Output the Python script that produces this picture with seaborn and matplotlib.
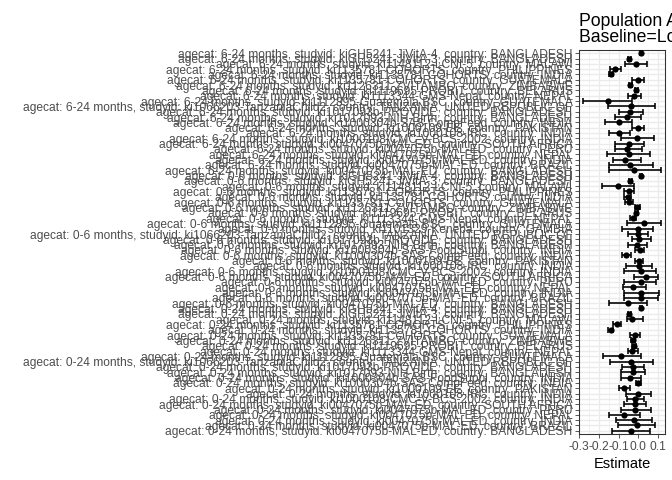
import numpy as np
import pandas as pd
import matplotlib
matplotlib.use("Agg")
import matplotlib.pyplot as plt
from matplotlib.ticker import MultipleLocator
import seaborn as sns

# --- DATA (each age group listed top to bottom) ---
studies_6_24 = [
    ("kiGH5241-JiVitA-4", "BANGLADESH"), ("kiGH5241-JiVitA-3", "BANGLADESH"),
    ("ki1148112-LCNI-5", "MALAWI"), ("ki1135781-COHORTS", "PHILIPPINES"),
    ("ki1135781-COHORTS", "INDIA"), ("ki1135781-COHORTS", "GUATEMALA"),
    ("ki1126311-ZVITAMBO", "ZIMBABWE"), ("ki1119695-PROBIT", "BELARUS"),
    ("ki1113344-GMS-Nepal", "NEPAL"), ("ki1112895-Guatemala BSC", "GUATEMALA"),
    ("ki1066203-TanzaniaChild2", "TANZANIA, UNITED REPUBLIC OF"),
    ("ki1017093b-PROVIDE", "BANGLADESH"), ("ki1017093-NIH-Birth", "BANGLADESH"),
    ("ki1000304b-SAS-CompFeed", "INDIA"), ("ki1000109-EE", "PAKISTAN"),
    ("ki1000108-IRC", "INDIA"), ("ki1000108-CMC-V-BCS-2002", "INDIA"),
    ("ki0047075b-MAL-ED", "SOUTH AFRICA"), ("ki0047075b-MAL-ED", "PERU"),
    ("ki0047075b-MAL-ED", "NEPAL"), ("ki0047075b-MAL-ED", "INDIA"),
    ("ki0047075b-MAL-ED", "BRAZIL"), ("ki0047075b-MAL-ED", "BANGLADESH"),
]
est_6_24 = [0.012, -0.045, -0.01, -0.12, -0.14, 0.0, -0.04, -0.01, -0.022, -0.155, -0.036, -0.04,
            -0.056, -0.1, 0.0, -0.1, -0.005, -0.045, -0.058, -0.046, -0.065, -0.04, -0.02]
lo_6_24 = [0.006, -0.053, -0.067, -0.145, -0.15, -0.03, -0.048, -0.018, -0.05, -0.28, -0.155, -0.097,
           -0.12, -0.17, -0.03, -0.15, -0.09, -0.12, -0.12, -0.16, -0.13, -0.15, -0.15]
hi_6_24 = [0.018, -0.037, 0.046, -0.09, -0.13, 0.03, -0.032, -0.002, 0.015, -0.03, 0.085, 0.023,
           0.015, -0.03, 0.03, -0.04, 0.08, 0.03, 0.02, 0.06, 0.015, 0.075, 0.115]

studies_0_6 = [
    ("kiGH5241-JiVitA-4", "BANGLADESH"), ("kiGH5241-JiVitA-3", "BANGLADESH"),
    ("ki1148112-LCNI-5", "MALAWI"), ("ki1135781-COHORTS", "PHILIPPINES"),
    ("ki1135781-COHORTS", "INDIA"), ("ki1135781-COHORTS", "GUATEMALA"),
    ("ki1126311-ZVITAMBO", "ZIMBABWE"), ("ki1119695-PROBIT", "BELARUS"),
    ("ki1113344-GMS-Nepal", "NEPAL"), ("ki1112895-Guatemala BSC", "GUATEMALA"),
    ("ki1101329-Keneba", "GAMBIA"),
    ("ki1066203-TanzaniaChild2", "TANZANIA, UNITED REPUBLIC OF"),
    ("ki1017093b-PROVIDE", "BANGLADESH"), ("ki1017093-NIH-Birth", "BANGLADESH"),
    ("ki1000304b-SAS-FoodSuppl", "INDIA"), ("ki1000304b-SAS-CompFeed", "INDIA"),
    ("ki1000109-EE", "PAKISTAN"), ("ki1000108-IRC", "INDIA"),
    ("ki1000108-CMC-V-BCS-2002", "INDIA"),
    ("ki0047075b-MAL-ED", "SOUTH AFRICA"), ("ki0047075b-MAL-ED", "PERU"),
    ("ki0047075b-MAL-ED", "NEPAL"), ("ki0047075b-MAL-ED", "INDIA"),
    ("ki0047075b-MAL-ED", "BRAZIL"), ("ki0047075b-MAL-ED", "BANGLADESH"),
]
est_0_6 = [0.015, -0.04, -0.105, -0.045, -0.053, -0.045, -0.005, -0.01, -0.027, 0.027, 0.0, 0.0, 0.003,
           -0.005, 0.007, -0.06, 0.003, 0.003, 0.013, 0.037, 0.013, -0.027, 0.015, 0.013, -0.053]
lo_0_6 = [0.01, -0.046, -0.185, -0.07, -0.07, -0.066, -0.018, -0.018, -0.044, -0.055, -0.085, -0.05, -0.032,
          -0.05, -0.015, -0.085, -0.015, -0.06, -0.07, -0.02, -0.07, -0.08, -0.07, -0.07, -0.15]
hi_0_6 = [0.02, -0.034, -0.02, -0.02, -0.036, -0.025, 0.01, -0.002, -0.01, 0.115, 0.075, 0.05, 0.063,
          0.046, 0.03, -0.036, 0.024, 0.07, 0.09, 0.1, 0.09, 0.04, 0.105, 0.1, 0.046]

studies_0_24 = [
    ("kiGH5241-JiVitA-4", "BANGLADESH"), ("kiGH5241-JiVitA-3", "BANGLADESH"),
    ("ki1148112-LCNI-5", "MALAWI"), ("ki1135781-COHORTS", "PHILIPPINES"),
    ("ki1135781-COHORTS", "INDIA"), ("ki1135781-COHORTS", "GUATEMALA"),
    ("ki1126311-ZVITAMBO", "ZIMBABWE"), ("ki1119695-PROBIT", "BELARUS"),
    ("ki1113344-GMS-Nepal", "NEPAL"), ("ki1112895-Guatemala BSC", "GUATEMALA"),
    ("ki1066203-TanzaniaChild2", "TANZANIA, UNITED REPUBLIC OF"),
    ("ki1017093b-PROVIDE", "BANGLADESH"), ("ki1017093-NIH-Birth", "BANGLADESH"),
    ("ki1000304b-SAS-FoodSuppl", "INDIA"), ("ki1000304b-SAS-CompFeed", "INDIA"),
    ("ki1000109-EE", "PAKISTAN"), ("ki1000108-IRC", "INDIA"),
    ("ki1000108-CMC-V-BCS-2002", "INDIA"),
    ("ki0047075b-MAL-ED", "SOUTH AFRICA"), ("ki0047075b-MAL-ED", "PERU"),
    ("ki0047075b-MAL-ED", "NEPAL"), ("ki0047075b-MAL-ED", "INDIA"),
    ("ki0047075b-MAL-ED", "BRAZIL"), ("ki0047075b-MAL-ED", "BANGLADESH"),
]
est_0_24 = [0.013, -0.045, -0.03, -0.11, -0.14, -0.015, -0.027, -0.022, -0.032, -0.087, -0.036, -0.027,
            -0.027, -0.044, 0.0, -0.07, 0.0, -0.015, -0.015, -0.015, -0.073, -0.02, -0.008, -0.037]
lo_0_24 = [0.008, -0.051, -0.056, -0.13, -0.152, -0.04, -0.039, -0.034, -0.053, -0.18, -0.143, -0.084,
           -0.087, -0.09, -0.012, -0.1, -0.062, -0.057, -0.07, -0.09, -0.147, -0.113, -0.103, -0.134]
hi_0_24 = [0.018, -0.039, 0.024, -0.087, -0.128, 0.007, -0.015, -0.01, 0.0, 0.012, 0.075, 0.03,
           0.032, 0.012, 0.012, -0.04, 0.063, 0.03, 0.04, 0.063, 0.007, 0.07, 0.085, 0.06]

TITLE = "Population Attributable Difference\nBaseline=Low birth weight"


def build_frame():
    rows = []
    groups = [("6-24 months", studies_6_24, est_6_24, lo_6_24, hi_6_24),
              ("0-6 months", studies_0_6, est_0_6, lo_0_6, hi_0_6),
              ("0-24 months", studies_0_24, est_0_24, lo_0_24, hi_0_24)]
    for age, studies, est, lo, hi in groups:
        for (sid, country), e, l, h in zip(studies, est, lo, hi):
            rows.append({"label": f"agecat: {age}, studyid: {sid}, country: {country}",
                         "est": e, "lo": l, "hi": h})
    df = pd.DataFrame(rows)
    df["row"] = np.arange(len(df))
    return df


def main():
    df = build_frame()
    n = len(df)

    sns.set_theme(style="white")
    plt.rcParams["font.family"] = ["Liberation Sans", "DejaVu Sans"]

    fig = plt.figure(figsize=(7, 5), dpi=96)
    ax = fig.add_axes([579 / 672, 1 - 434 / 480, 86 / 672, 384 / 480])

    ax.errorbar(df["est"], df["row"], xerr=[df["est"] - df["lo"], df["hi"] - df["est"]],
                fmt="none", ecolor="black", elinewidth=1.2, capsize=1.9, capthick=1.2, zorder=3)
    sns.scatterplot(data=df, x="est", y="row", color="black", s=22, edgecolor="black",
                    linewidth=0, zorder=4, ax=ax)

    # ggplot-like limits: 5% on continuous, 0.6 on discrete
    xmin, xmax = df["lo"].min(), df["hi"].max()
    pad = 0.05 * (xmax - xmin)
    ax.set_xlim(xmin - pad, xmax + pad)
    ax.set_ylim(n - 1 + 0.6, -0.6)

    ax.xaxis.set_minor_locator(MultipleLocator(0.05))
    ticks = np.arange(-0.3, 0.11, 0.1)
    ax.set_xticks(ticks)
    ax.set_xticklabels([f"{v:.1f}" for v in ticks])
    ax.set_yticks(df["row"])
    ax.set_yticklabels(df["label"])

    ax.grid(True, which="major", color="#EBEBEB", linewidth=1.0, zorder=0)
    ax.grid(True, which="minor", axis="x", color="#EBEBEB", linewidth=0.5, zorder=0)
    ax.set_axisbelow(True)
    for s in ax.spines.values():
        s.set_color("#333333")
        s.set_linewidth(0.8)

    ax.tick_params(axis="both", which="major", length=2.75, width=0.6, color="#333333",
                   labelsize=9.0, labelcolor="#4D4D4D", pad=2.2, left=True, bottom=True)
    ax.tick_params(axis="x", which="minor", length=0)

    ax.set_xlabel("Estimate", fontsize=11, color="black", labelpad=3)
    ax.set_ylabel("")
    ax.set_title(TITLE, fontsize=13.2, loc="left", ha="left", color="black", pad=6,
                 linespacing=0.9)

    fig.savefig("out.png", dpi=96)


if __name__ == "__main__":
    main()
